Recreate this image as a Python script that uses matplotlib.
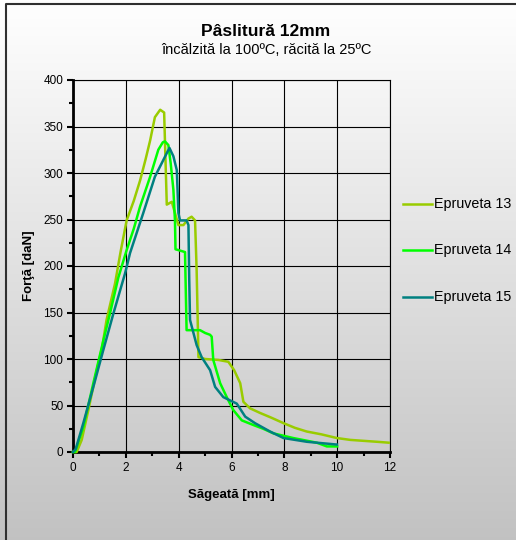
import matplotlib
matplotlib.use("Agg")
import matplotlib.pyplot as plt
import numpy as np
from matplotlib.lines import Line2D
from matplotlib.ticker import MultipleLocator

# Epruveta 13
x13 = [0, 0.14, 0.33, 0.58, 0.9, 1.1, 1.27, 1.59, 1.8, 2.03, 2.3, 2.54, 2.75, 2.92, 3.1, 3.2,
       3.3, 3.4, 3.45, 3.55, 3.74, 3.86, 3.99, 4.18, 4.37, 4.49, 4.62, 4.68, 4.75, 5.0, 5.5,
       5.88, 6.1, 6.33, 6.45, 6.7, 7.08, 7.5, 7.97, 8.4, 8.85, 9.4, 9.99, 10.5, 11.0, 11.5, 11.95]
y13 = [0, 0, 13, 45, 88, 112, 142, 181, 215, 249, 270, 292, 315, 335, 360, 364,
       368, 366, 365, 266, 269, 257, 244, 244, 251, 253, 249, 196, 102, 100, 99,
       97, 88, 74, 54, 47, 42, 37, 31, 26, 22, 19, 15, 13, 12, 11, 10]
# Epruveta 14
x14 = [0, 0.08, 0.39, 0.77, 1.15, 1.4, 1.72, 2.03, 2.3, 2.54, 2.92, 3.23, 3.4, 3.48, 3.61,
       3.7, 3.8, 3.86, 3.88, 4.24, 4.3, 4.5, 4.81, 5.0, 5.19, 5.25, 5.31, 5.57, 5.82, 6.07,
       6.39, 6.83, 7.2, 7.59, 8.34, 9.23, 9.61, 10.0]
y14 = [0, 0, 27, 74, 120, 149, 188, 217, 240, 264, 296, 325, 333, 334, 330,
       310, 282, 249, 218, 215, 131, 131, 131, 128, 126, 124, 99, 74, 59, 45,
       34, 29, 25, 20, 15, 10, 6, 6]
# Epruveta 15
x15 = [0, 0.1, 0.39, 0.77, 1.15, 1.53, 1.97, 2.16, 2.66, 3.1, 3.42, 3.65, 3.8, 3.93, 3.99,
       4.05, 4.3, 4.37, 4.4, 4.43, 4.56, 4.68, 4.87, 5.19, 5.38, 5.69, 6.2, 6.52, 6.89,
       7.46, 7.97, 8.85, 9.99]
y15 = [0, 3, 31, 70, 110, 149, 192, 214, 257, 296, 314, 327, 318, 303, 257,
       249, 249, 244, 185, 142, 128, 115, 102, 88, 70, 59, 52, 38, 31,
       22, 15, 11, 8]

series = [("Epruveta 13", x13, y13, "#99CC00"),
          ("Epruveta 14", x14, y14, "#00FF00"),
          ("Epruveta 15", x15, y15, "#008080")]

plt.rcParams["font.family"] = ["Liberation Sans", "DejaVu Sans"]

W, H = 516, 540
fig = plt.figure(figsize=(W / 100, H / 100), dpi=100)

# white -> gray gradient background
bg = fig.add_axes([0, 0, 1, 1], zorder=-10)
grad = np.linspace(1.0, 0.76, 256).reshape(-1, 1)
bg.imshow(np.dstack([grad, grad, grad]), aspect="auto", extent=[0, 1, 0, 1])
bg.plot([6 / W, 6 / W, 1], [0, 1 - 4 / H, 1 - 4 / H], color="#303030", lw=1.5)
bg.set_xlim(0, 1); bg.set_ylim(0, 1)
bg.axis("off")

ax = fig.add_axes([73 / W, 1 - 452 / H, (390 - 73) / W, (452 - 80) / H])
ax.set_facecolor("none")
for name, xs, ys, c in series:
    ax.plot(xs, ys, color=c, lw=1.8, label=name, clip_on=False, zorder=3)

ax.set_xlim(0, 12)
ax.set_ylim(0, 400)
ax.xaxis.set_major_locator(MultipleLocator(2))
ax.xaxis.set_minor_locator(MultipleLocator(1))
ax.yaxis.set_major_locator(MultipleLocator(50))
ax.yaxis.set_minor_locator(MultipleLocator(25))
ax.grid(True, which="major", color="black", lw=0.8)
ax.set_axisbelow(True)
for s in ["top", "right"]:
    ax.spines[s].set_linewidth(0.8)
for s in ["left", "bottom"]:
    ax.spines[s].set_linewidth(2)
ax.tick_params(which="major", direction="out", length=4, width=1.5, labelsize=8.5, pad=3)
ax.tick_params(which="minor", direction="out", length=3, width=1.5)
ax.tick_params(top=False, right=False, which="both")
ax.set_xlabel("Săgeată [mm]", fontsize=9.5, fontweight="bold", labelpad=11)
ax.set_ylabel("Forţă [daN]", fontsize=9.5, fontweight="bold", labelpad=6)

fig.text(266 / W, 1 - 32 / H, "Pâslitură 12mm", ha="center", va="center",
         fontsize=12.5, fontweight="bold")
fig.text(266 / W, 1 - 50 / H, "încălzită la 100ºC, răcită la 25ºC", ha="center",
         va="center", fontsize=10.5)

# legend drawn beside the plot
leg_y = [204, 250, 297]
for (name, _, _, c), yy in zip(series, leg_y):
    fy = 1 - yy / H
    fig.add_artist(Line2D([403 / W, 432 / W], [fy, fy], color=c, lw=1.8))
    fig.text(434 / W, fy, name, ha="left", va="center", fontsize=10.3)

fig.savefig("out.png", dpi=100)
